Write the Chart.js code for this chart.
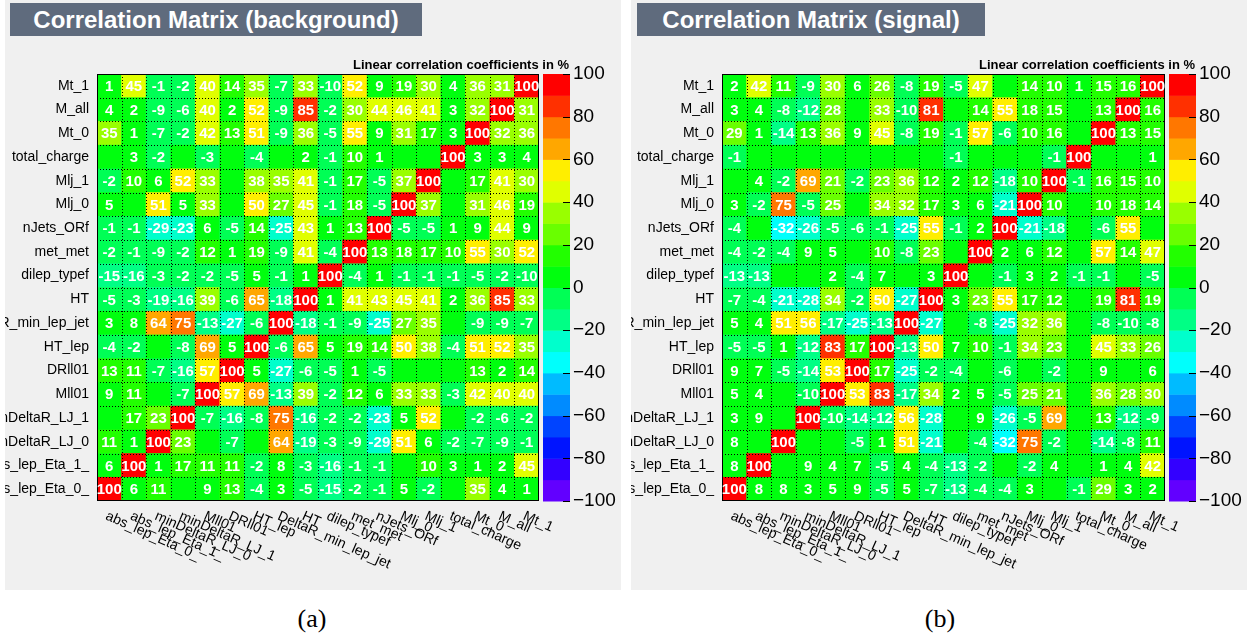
<!DOCTYPE html>
<html>
<head>
<meta charset="utf-8">
<script src="https://cdn.jsdelivr.net/npm/chart.js@4/dist/chart.umd.min.js"></script>
<style>
  body { margin: 0; background: #fff; width: 1247px; height: 642px; position: relative; overflow: hidden;
         font-family: "Liberation Sans", Arial, sans-serif; }
  .panel { position: absolute; top: 0; width: 616px; height: 590px; background: #f0f0f0; }
  .panel canvas { position: absolute; left: 0; top: 0; }
  .title { position: absolute; top: 3px; height: 33px; line-height: 33px; background: #5f6b7d; color: #fff;
           font-weight: bold; font-size: 24px; text-align: center; }
  .caption { position: absolute; top: 604px; width: 80px; text-align: center;
             font-family: "Liberation Serif", "DejaVu Serif", serif; font-size: 26px; color: #000; }
</style>
</head>
<body>

<div class="panel" style="left:5px">
  <canvas id="bkgChart" width="616" height="590"></canvas>
  <div class="title" style="left:5px; width:412px">Correlation Matrix (background)</div>
</div>
<div class="panel" style="left:631px">
  <canvas id="sigChart" width="616" height="590"></canvas>
  <div class="title" style="left:6px; width:348px">Correlation Matrix (signal)</div>
</div>
<div class="caption" style="left:272px">(a)</div>
<div class="caption" style="left:900px">(b)</div>

<script>
// variables, bottom row / left column first
const variables = ['abs_lep_Eta_0_', 'abs_lep_Eta_1_', 'minDeltaR_LJ_0', 'minDeltaR_LJ_1', 'Mll01', 'DRll01',
  'HT_lep', 'DeltaR_min_lep_jet', 'HT', 'dilep_typef', 'met_met', 'nJets_ORf', 'Mlj_0', 'Mlj_1',
  'total_charge', 'Mt_0', 'M_all', 'Mt_1'];

// correlation in %, one row per variable (same order), 0 = no label
const background = [
  [100, 6, 11, 0, 9, 13, -4, 3, -5, -15, -2, -1, 5, -2, 0, 35, 4, 1],
  [6, 100, 1, 17, 11, 11, -2, 8, -3, -16, -1, -1, 0, 10, 3, 1, 2, 45],
  [11, 1, 100, 23, 0, -7, 0, 64, -19, -3, -9, -29, 51, 6, -2, -7, -9, -1],
  [0, 17, 23, 100, -7, -16, -8, 75, -16, -2, -2, -23, 5, 52, 0, -2, -6, -2],
  [9, 11, 0, -7, 100, 57, 69, -13, 39, -2, 12, 6, 33, 33, -3, 42, 40, 40],
  [13, 11, -7, -16, 57, 100, 5, -27, -6, -5, 1, -5, 0, 0, 0, 13, 2, 14],
  [-4, -2, 0, -8, 69, 5, 100, -6, 65, 5, 19, 14, 50, 38, -4, 51, 52, 35],
  [3, 8, 64, 75, -13, -27, -6, 100, -18, -1, -9, -25, 27, 35, 0, -9, -9, -7],
  [-5, -3, -19, -16, 39, -6, 65, -18, 100, 1, 41, 43, 45, 41, 2, 36, 85, 33],
  [-15, -16, -3, -2, -2, -5, 5, -1, 1, 100, -4, 1, -1, -1, -1, -5, -2, -10],
  [-2, -1, -9, -2, 12, 1, 19, -9, 41, -4, 100, 13, 18, 17, 10, 55, 30, 52],
  [-1, -1, -29, -23, 6, -5, 14, -25, 43, 1, 13, 100, -5, -5, 1, 9, 44, 9],
  [5, 0, 51, 5, 33, 0, 50, 27, 45, -1, 18, -5, 100, 37, 0, 31, 46, 19],
  [-2, 10, 6, 52, 33, 0, 38, 35, 41, -1, 17, -5, 37, 100, 0, 17, 41, 30],
  [0, 3, -2, 0, -3, 0, -4, 0, 2, -1, 10, 1, 0, 0, 100, 3, 3, 4],
  [35, 1, -7, -2, 42, 13, 51, -9, 36, -5, 55, 9, 31, 17, 3, 100, 32, 36],
  [4, 2, -9, -6, 40, 2, 52, -9, 85, -2, 30, 44, 46, 41, 3, 32, 100, 31],
  [1, 45, -1, -2, 40, 14, 35, -7, 33, -10, 52, 9, 19, 30, 4, 36, 31, 100]
];

const signal = [
  [100, 8, 8, 3, 5, 9, -5, 5, -7, -13, -4, -4, 3, 0, -1, 29, 3, 2],
  [8, 100, 0, 9, 4, 7, -5, 4, -4, -13, -2, 0, -2, 4, 0, 1, 4, 42],
  [8, 0, 100, 0, 0, -5, 1, 51, -21, 0, -4, -32, 75, -2, 0, -14, -8, 11],
  [3, 9, 0, 100, -10, -14, -12, 56, -28, 0, 9, -26, -5, 69, 0, 13, -12, -9],
  [5, 4, 0, -10, 100, 53, 83, -17, 34, 2, 5, -5, 25, 21, 0, 36, 28, 30],
  [9, 7, -5, -14, 53, 100, 17, -25, -2, -4, 0, -6, 0, -2, 0, 9, 0, 6],
  [-5, -5, 1, -12, 83, 17, 100, -13, 50, 7, 10, -1, 34, 23, 0, 45, 33, 26],
  [5, 4, 51, 56, -17, -25, -13, 100, -27, 0, -8, -25, 32, 36, 0, -8, -10, -8],
  [-7, -4, -21, -28, 34, -2, 50, -27, 100, 3, 23, 55, 17, 12, 0, 19, 81, 19],
  [-13, -13, 0, 0, 2, -4, 7, 0, 3, 100, 0, -1, 3, 2, -1, -1, 0, -5],
  [-4, -2, -4, 9, 5, 0, 10, -8, 23, 0, 100, 2, 6, 12, 0, 57, 14, 47],
  [-4, 0, -32, -26, -5, -6, -1, -25, 55, -1, 2, 100, -21, -18, 0, -6, 55, 0],
  [3, -2, 75, -5, 25, 0, 34, 32, 17, 3, 6, -21, 100, 10, 0, 10, 18, 14],
  [0, 4, -2, 69, 21, -2, 23, 36, 12, 2, 12, -18, 10, 100, -1, 16, 15, 10],
  [-1, 0, 0, 0, 0, 0, 0, 0, 0, -1, 0, 0, 0, -1, 100, 0, 0, 1],
  [29, 1, -14, 13, 36, 9, 45, -8, 19, -1, 57, -6, 10, 16, 0, 100, 13, 15],
  [3, 4, -8, -12, 28, 0, 33, -10, 81, 0, 14, 55, 18, 15, 0, 13, 100, 16],
  [2, 42, 11, -9, 30, 6, 26, -8, 19, -5, 47, 0, 14, 10, 1, 15, 16, 100]
];

const zTicks = [-100, -80, -60, -40, -20, 0, 20, 40, 60, 80, 100];

// 20 contour colours, -100 .. 100 in steps of 10
const palette = ['#6200ff', '#3300ff', '#0014ff', '#0044ff', '#008bff', '#00bbff', '#00fffc', '#00ffcc',
  '#00ff85', '#00ff55', '#00ff0e', '#22ff00', '#69ff00', '#99ff00', '#e0ff00', '#ffee00', '#ffa700',
  '#ff7700', '#ff3000', '#ff0000'];

const FONT = '"Liberation Sans", Arial, sans-serif';

function colorFor(v) {
    let k = Math.floor((v + 100) / 10);
    if (k > 19) k = 19;
    if (k < 0) k = 0;
    return palette[k];
}

// ── plugins ──
const cellText = {
    id: 'cellText',
    afterDatasetsDraw(chart) {
        const ctx = chart.ctx;
        const matrix = chart.options.plugins.cellText.matrix;
        ctx.save();
        ctx.fillStyle = '#fff';
        ctx.font = 'bold 15px ' + FONT;
        ctx.textAlign = 'center';
        ctx.textBaseline = 'middle';
        chart.data.datasets.forEach((ds, r) => {
            chart.getDatasetMeta(r).data.forEach((bar, c) => {
                const v = matrix[r][c];
                if (v === 0) return;
                const p = bar.getCenterPoint();
                ctx.fillText(String(v), p.x, p.y + 1);
            });
        });
        ctx.restore();
    }
};

const gridLines = {
    id: 'gridLines',
    afterDatasetsDraw(chart) {
        const { ctx, chartArea: a, scales: { x, y } } = chart;
        ctx.save();
        ctx.strokeStyle = '#000';
        ctx.lineWidth = 1;
        ctx.setLineDash([1, 2]);
        for (let i = 1; i < variables.length; i++) {
            const px = Math.round((x.getPixelForValue(i - 1) + x.getPixelForValue(i)) / 2) + 0.5;
            ctx.beginPath(); ctx.moveTo(px, a.top); ctx.lineTo(px, a.bottom); ctx.stroke();
            const py = Math.round(y.getPixelForValue(i)) + 0.5;
            ctx.beginPath(); ctx.moveTo(a.left, py); ctx.lineTo(a.right, py); ctx.stroke();
        }
        ctx.setLineDash([]);
        ctx.strokeRect(Math.round(a.left) + 0.5, Math.round(a.top) + 0.5,
            Math.round(a.right - a.left) - 1, Math.round(a.bottom - a.top) - 1);
        ctx.restore();
    }
};

const xLabels = {
    id: 'xLabels',
    afterDraw(chart) {
        const { ctx, chartArea: a, scales: { x } } = chart;
        ctx.save();
        ctx.fillStyle = '#000';
        ctx.font = '14px ' + FONT;
        ctx.textAlign = 'left';
        ctx.textBaseline = 'top';
        variables.forEach((name, i) => {
            ctx.save();
            ctx.translate(x.getPixelForValue(i), a.bottom + 8);
            ctx.rotate(24 * Math.PI / 180);
            ctx.fillText(name, 0, 0);
            ctx.restore();
        });
        ctx.restore();
    }
};

const colorBar = {
    id: 'colorBar',
    afterDraw(chart) {
        const { ctx, chartArea: a, scales: { z } } = chart;
        const x0 = a.right + 4, x1 = a.right + 31;
        ctx.save();
        for (let k = 0; k < palette.length; k++) {
            const yTop = z.getPixelForValue(-100 + (k + 1) * 10);
            const yBot = z.getPixelForValue(-100 + k * 10);
            ctx.fillStyle = palette[k];
            ctx.fillRect(x0, yTop, x1 - x0, yBot - yTop + 0.5);
        }
        ctx.strokeStyle = '#000';
        ctx.lineWidth = 1;
        zTicks.forEach(v => {
            const py = Math.round(z.getPixelForValue(v)) + 0.5;
            ctx.beginPath(); ctx.moveTo(x1 - 7, py); ctx.lineTo(x1, py); ctx.stroke();
        });
        ctx.fillStyle = '#000';
        ctx.font = 'bold 13px ' + FONT;
        ctx.textAlign = 'right';
        ctx.textBaseline = 'alphabetic';
        ctx.fillText('Linear correlation coefficients in %', x1 - 1, a.top - 5);
        ctx.restore();
    }
};

function makeChart(id, matrix, leftWidth) {
    const datasets = matrix.map(row => ({
        data: variables.map(() => 1),
        backgroundColor: row.map(colorFor),
        borderWidth: 0,
        barPercentage: 1,
        categoryPercentage: 1
    }));
    return new Chart(document.getElementById(id), {
        type: 'bar',
        data: { labels: variables, datasets },
        options: {
            responsive: false,
            animation: false,
            devicePixelRatio: 1,
            events: [],
            layout: { padding: { top: 74, bottom: 89, left: 0, right: 0 } },
            plugins: {
                legend: { display: false },
                tooltip: { enabled: false },
                cellText: { matrix }
            },
            scales: {
                x: { stacked: true, display: false },
                y: {
                    stacked: true, min: 0, max: variables.length,
                    afterBuildTicks: axis => { axis.ticks = variables.map((_, i) => ({ value: i + 0.5 })); },
                    afterFit: axis => { axis.width = leftWidth; },
                    ticks: {
                        autoSkip: false, padding: 8, color: '#000',
                        font: { family: FONT, size: 14 },
                        callback: (v, i) => variables[i]
                    },
                    grid: { display: false, drawTicks: false },
                    border: { display: false }
                },
                z: {
                    type: 'linear', position: 'right', min: -100, max: 100,
                    afterBuildTicks: axis => { axis.ticks = zTicks.map(v => ({ value: v })); },
                    afterFit: axis => { axis.width = 82; },
                    ticks: {
                        autoSkip: false, padding: 34, color: '#000',
                        font: { family: FONT, size: 19 },
                        callback: v => v < 0 ? '\u2212' + (-v) : String(v)
                    },
                    grid: { drawOnChartArea: false, drawTicks: false },
                    border: { display: false }
                }
            }
        },
        plugins: [gridLines, cellText, colorBar, xLabels]
    });
}

makeChart('bkgChart', background, 92);
makeChart('sigChart', signal, 91);
</script>
</body>
</html>
